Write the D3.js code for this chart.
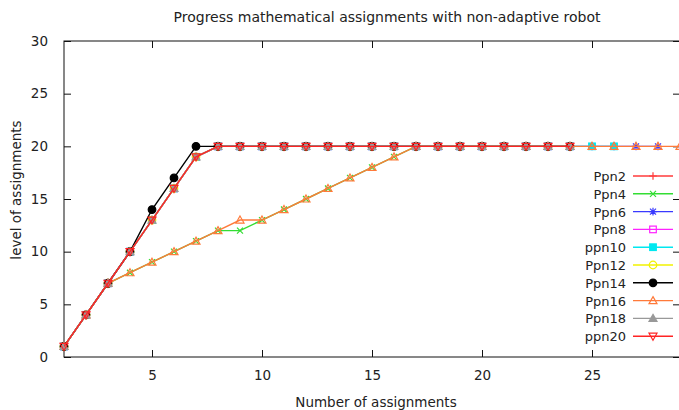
<!doctype html>
<html>
<head>
<meta charset="utf-8"/>
<title>Progress mathematical assignments</title>
<script src="https://d3js.org/d3.v7.min.js"></script>
<style>
  body { margin: 0; background: #fff; }
  text { font-family: "DejaVu Sans", sans-serif; fill: #222; }
</style>
</head>
<body>
<div id="chart"></div>
<script>
// number of assignments (x)
var assignments = [1,2,3,4,5,6,7,8,9,10,11,12,13,14,15,16,17,18,19,20,21,22,23,24,25,26,27,28,29];

// level reached per robot run (y), index i -> assignment i+1
var ppn2  = [1,4,7,10,13,16,19,20,20,20,20,20,20,20,20,20,20,20,20,20,20,20,20,20];
var ppn4  = [1,4,7,8,9,10,11,12,12,13,14,15,16,17,18,19,20,20,20,20,20,20,20,20];
var ppn6  = [1,4,7,10,13,16,19,20,20,20,20,20,20,20,20,20,20,20,20,20,20,20,20,20,20,20,20,20];
var ppn8  = [1,4,7,10,13,16,19,20,20,20,20,20,20,20,20,20,20,20,20,20,20,20,20,20];
var ppn10 = [1,4,7,10,13,16,19,20,20,20,20,20,20,20,20,20,20,20,20,20,20,20,20,20,20,20];
var ppn12 = [1,4,7,10,13,16,19,20,20,20,20,20,20,20,20,20,20,20,20,20,20,20,20,20];
var ppn14 = [1,4,7,10,14,17,20,20,20,20,20,20,20,20,20,20,20,20,20,20,20,20,20,20];
var ppn16 = [1,4,7,8,9,10,11,12,13,13,14,15,16,17,18,19,20,20,20,20,20,20,20,20,20,20,20,20,20];
var ppn18 = [1,4,7,10,13,16,19,20,20,20,20,20,20,20,20,20,20,20,20,20,20,20,20,20];
var ppn20 = [1,4,7,10,13,16,19,20,20,20,20,20,20,20,20,20,20,20,20,20,20,20,20,20];

var names   = ["Ppn2","Ppn4","Ppn6","Ppn8","ppn10","Ppn12","Ppn14","Ppn16","Ppn18","ppn20"];
var values  = [ppn2, ppn4, ppn6, ppn8, ppn10, ppn12, ppn14, ppn16, ppn18, ppn20];
var colors  = ["#ff3b3b","#33dd33","#3a3aff","#ff22ff","#00e8f0","#f2f200","#000000","#ff7a3a","#999999","#ff2424"];
var symbols = ["plus","cross","star","square","squareFill","circle","circleFill","triangle","triangleFill","triangleDown"];

var xTicks = [5,10,15,20,25];
var yTicks = [0,5,10,15,20,25,30];

var W = 679, H = 410;
var pLeft = 64, pRight = 680, pTop = 41, pBottom = 357;

var svg = d3.select("#chart").append("svg")
    .attr("width", W)
    .attr("height", H);

var x = d3.scaleLinear().domain([1, 29]).range([pLeft, pRight]);
var y = d3.scaleLinear().domain([0, 30]).range([pBottom, pTop]);

svg.append("defs").append("clipPath").attr("id", "clip")
  .append("rect")
    .attr("x", pLeft).attr("y", pTop)
    .attr("width", pRight - pLeft).attr("height", pBottom - pTop);

// border with inward ticks on all four sides
svg.append("rect")
    .attr("x", pLeft).attr("y", pTop)
    .attr("width", pRight - pLeft).attr("height", pBottom - pTop)
    .attr("fill", "none").attr("stroke", "#111").attr("stroke-width", 1);

var tl = 7;
svg.append("g").attr("transform", "translate(0," + pBottom + ")")
    .call(d3.axisBottom(x).tickValues(xTicks).tickSizeInner(-tl).tickSizeOuter(0).tickPadding(13))
    .call(function(g) { g.select(".domain").remove(); });
svg.append("g").attr("transform", "translate(0," + pTop + ")")
    .call(d3.axisTop(x).tickValues(xTicks).tickSizeInner(-tl).tickSizeOuter(0).tickFormat(""))
    .call(function(g) { g.select(".domain").remove(); });
svg.append("g").attr("transform", "translate(" + pLeft + ",0)")
    .call(d3.axisLeft(y).tickValues(yTicks).tickSizeInner(-tl).tickSizeOuter(0).tickPadding(16))
    .call(function(g) { g.select(".domain").remove(); });
svg.append("g").attr("transform", "translate(" + pRight + ",0)")
    .call(d3.axisRight(y).tickValues(yTicks).tickSizeInner(-tl).tickSizeOuter(0).tickFormat(""))
    .call(function(g) { g.select(".domain").remove(); });

svg.selectAll(".tick line").attr("stroke", "#111");
svg.selectAll(".tick text")
    .attr("font-family", "DejaVu Sans")
    .attr("font-size", 13.5)
    .attr("fill", "#222");

// titles
svg.append("text")
    .attr("x", 387).attr("y", 22)
    .attr("text-anchor", "middle")
    .attr("font-size", 14)
    .text("Progress mathematical assignments with non-adaptive robot");

svg.append("text")
    .attr("x", 376).attr("y", 407)
    .attr("text-anchor", "middle")
    .attr("font-size", 13.5)
    .text("Number of assignments");

svg.append("text")
    .attr("transform", "translate(21,190) rotate(-90)")
    .attr("text-anchor", "middle")
    .attr("font-size", 13.5)
    .text("level of assignments");

function marker(g, type, color, cx, cy) {
  var r = 3.8;
  var s = g.append("g").attr("transform", "translate(" + cx + "," + cy + ")");
  var st = function(el, fill) {
    return el.attr("stroke", color).attr("stroke-width", 1.2).attr("fill", fill ? color : "none");
  };
  if (type == "plus") {
    st(s.append("path").attr("d", "M" + (-r) + ",0H" + r + "M0," + (-r) + "V" + r));
  } else if (type == "cross") {
    st(s.append("path").attr("d", "M-3,-3L3,3M-3,3L3,-3"));
  } else if (type == "star") {
    st(s.append("path").attr("d", "M" + (-r) + ",0H" + r + "M0," + (-r) + "V" + r + "M-3,-3L3,3M-3,3L3,-3"));
  } else if (type == "square" || type == "squareFill") {
    st(s.append("rect").attr("x", -3.3).attr("y", -3.3).attr("width", 6.6).attr("height", 6.6), type == "squareFill");
  } else if (type == "circle" || type == "circleFill") {
    st(s.append("circle").attr("r", r), type == "circleFill");
  } else if (type == "triangle" || type == "triangleFill") {
    st(s.append("path").attr("d", "M0,-4L4,3L-4,3Z"), type == "triangleFill");
  } else if (type == "triangleDown") {
    st(s.append("path").attr("d", "M0,4L4,-3L-4,-3Z"));
  }
}

var line = d3.line()
    .x(function(d, i) { return x(assignments[i]); })
    .y(function(d) { return y(d); });

var plot = svg.append("g");
values.forEach(function(v, k) {
  plot.append("path")
      .attr("clip-path", "url(#clip)")
      .attr("d", line(v))
      .attr("fill", "none")
      .attr("stroke", colors[k])
      .attr("stroke-width", 1.4);
  v.forEach(function(d, i) {
    marker(plot, symbols[k], colors[k], x(assignments[i]), y(d));
  });
});

// legend
var legX = 626, legY = 176, legStep = 17.8;
names.forEach(function(n, k) {
  var yy = legY + k * legStep;
  svg.append("text")
      .attr("x", legX).attr("y", yy + 5)
      .attr("text-anchor", "end")
      .attr("font-size", 13)
      .text(n);
  svg.append("line")
      .attr("x1", 633).attr("x2", 673)
      .attr("y1", yy).attr("y2", yy)
      .attr("stroke", colors[k]).attr("stroke-width", 1.4);
  marker(svg, symbols[k], colors[k], 653, yy);
});
</script>
</body>
</html>
